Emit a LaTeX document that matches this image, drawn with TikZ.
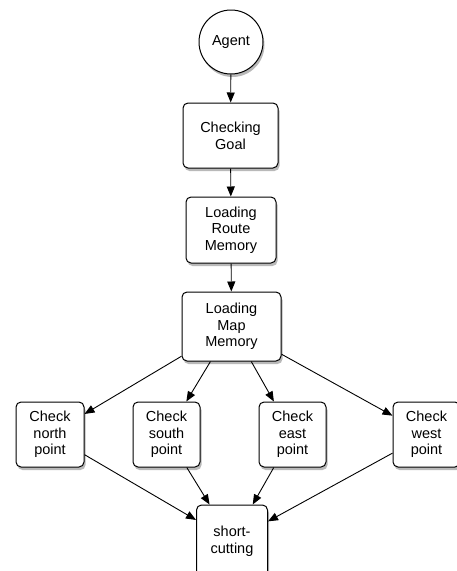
\documentclass[tikz,border=0pt]{standalone}
\usepackage{fontspec}
\setmainfont{Liberation Sans}
\usetikzlibrary{arrows.meta,shadows}
\begin{document}
\begin{tikzpicture}[x=1pt,y=-1pt,
        box/.style={draw, line width=1pt, rounded corners=5pt, fill=white, align=center,
            inner sep=0pt, font=\fontsize{14.5}{16.7}\selectfont,
            drop shadow={shadow xshift=1.5pt, shadow yshift=-3pt, fill=black!55}},
        arr/.style={-{Triangle[length=10pt,width=8pt]}, line width=.9pt}]
                \useasboundingbox (0,0) rectangle (456,571);
                \node [box, circle, minimum size=64pt] (agent) at (231,42) {Agent};
                \node [box, minimum width=95pt, minimum height=65pt] (goal) at (230.5,135.5) {Checking\\Goal};
                \node [box, minimum width=90pt, minimum height=66pt] (route) at (231,230) {Loading\\Route\\Memory};
                \node [box, minimum width=99pt, minimum height=69pt] (map) at (231.5,326.5) {Loading\\Map\\Memory};
                \node [box, minimum width=68pt, minimum height=65pt] (north) at (50,434.5) {Check\\north\\point};
                \node [box, minimum width=67pt, minimum height=65pt] (south) at (166.5,434.5) {Check\\south\\point};
                \node [box, minimum width=67pt, minimum height=65pt] (east) at (292.5,434.5) {Check\\east\\point};
                \node [box, minimum width=67pt, minimum height=65pt] (west) at (426.5,434.5) {Check\\west\\point};
                \node [box, minimum width=71pt, minimum height=72pt] (short) at (232,541) {short-\\cutting};
                \draw [arr] (agent) -- (goal);
                \draw [arr] (goal) -- (route);
                \draw [arr] (route) -- (map);
                \draw [arr] (map) -- (north);
                \draw [arr] (map) -- (south);
                \draw [arr] (map) -- (east);
                \draw [arr] (map) -- (west);
                \draw [arr] (north) -- (short);
                \draw [arr] (south) -- (short);
                \draw [arr] (east) -- (short);
                \draw [arr] (west) -- (short);
            \end{tikzpicture}
\end{document}
